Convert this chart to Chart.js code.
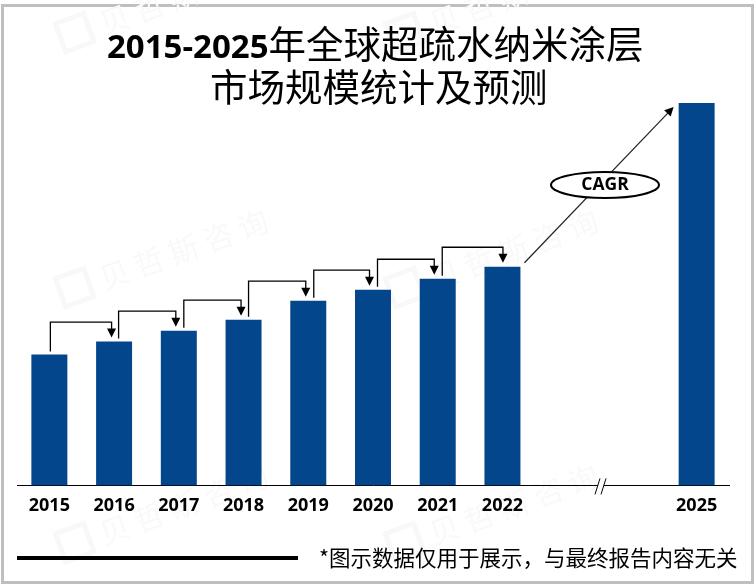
<!DOCTYPE html>
<html>
<head>
<meta charset="utf-8">
<script src="https://cdn.jsdelivr.net/npm/chart.js@4/dist/chart.umd.min.js"></script>
<style>
html, body { margin: 0; padding: 0; background: #fff; }
#wrap { position: relative; width: 755px; height: 586px; overflow: hidden; }
#frame { position: absolute; left: 1px; top: 4px; width: 747px; height: 574px; border: 3px solid #bfbfbf; }
canvas { position: absolute; left: 0; top: 0; }
</style>
</head>
<body>
<div id="wrap">
  <div id="frame"></div>
  <canvas id="chart" width="755" height="586"></canvas>
</div>
<script>
// values have no axis in the picture, read as bar heights
const categories = ['2015', '2016', '2017', '2018', '2019', '2020', '2021', '2022', '', '', '2025'];
const marketSize = [131, 144, 155, 166, 185, 196, 207, 219, null, null, 383];
// height of the horizontal part of each step connector, same units as marketSize
const connectorLevels = [164, 175, 186, 205, 216, 227, 239];

const titleLines = [
    [['2015-2025', true], ['年全球超疏水纳米涂层', false]],
    [['市场规模统计及预测', false]]
];
const footnote = '*图示数据仅用于展示，与最终报告内容无关';
const watermarks = [[65, 50], [65, 305], [395, 305], [395, 560], [65, 560], [395, 50]];

const latinFont = '"Open Sans", sans-serif';
const cjkFont = '"Noto Sans CJK SC", sans-serif';

function arrowHead(ctx, x, y, angle, size) {
    ctx.save();
    ctx.translate(x, y);
    ctx.rotate(angle);
    ctx.beginPath();
    ctx.moveTo(0, 0);
    ctx.lineTo(-size, -size * 0.5);
    ctx.lineTo(-size, size * 0.5);
    ctx.closePath();
    ctx.fill();
    ctx.restore();
}

const watermarkPlugin = {
    id: 'watermark',
    beforeDraw(chart) {
        const ctx = chart.ctx;
        ctx.save();
        ctx.fillStyle = '#f9f9f9';
        ctx.strokeStyle = '#f8f8f8';
        ctx.lineWidth = 5;
        ctx.font = '30px ' + cjkFont;
        ctx.textAlign = 'left';
        watermarks.forEach(p => {
            ctx.save();
            ctx.translate(p[0], p[1]);
            ctx.rotate(-0.35);
            ctx.strokeRect(0, -28, 30, 30);
            ctx.fillText('贝 哲 斯 咨 询', 42, 0);
            ctx.restore();
        });
        ctx.restore();
    }
};

const annotationPlugin = {
    id: 'annotations',
    afterDraw(chart) {
        const ctx = chart.ctx;
        const x = chart.scales.x;
        const y = chart.scales.y;

        ctx.save();
        ctx.strokeStyle = '#000';
        ctx.fillStyle = '#000';
        ctx.lineWidth = 1.3;

        // step connectors between the bars
        const startOff = [0.5, 4, 4.5, 4.5, 5, 4, 4];
        const endOff = [-3, -3.5, -3, -3, -4, -4, 0];
        connectorLevels.forEach((level, i) => {
            const x0 = x.getPixelForValue(i) + startOff[i];
            const x1 = x.getPixelForValue(i + 1) + endOff[i];
            const y0 = y.getPixelForValue(marketSize[i]) - 3;
            const yl = y.getPixelForValue(level);
            const tip = y.getPixelForValue(marketSize[i + 1]) - 4;
            ctx.beginPath();
            ctx.moveTo(x0 + 0.5, y0);
            ctx.lineTo(x0 + 0.5, yl + 0.5);
            ctx.lineTo(x1 + 0.5, yl + 0.5);
            ctx.lineTo(x1 + 0.5, tip - 6);
            ctx.stroke();
            arrowHead(ctx, x1 + 0.5, tip, Math.PI / 2, 9);
        });

        // CAGR arrow from 2022 towards 2025
        const ax = x.getPixelForValue(7) + 22;
        const ay = y.getPixelForValue(marketSize[7]) - 4;
        const bx = x.getPixelForValue(10) - 23;
        const by = y.getPixelForValue(marketSize[10]) + 4;
        const angle = Math.atan2(by - ay, bx - ax);
        ctx.strokeStyle = '#222';
        ctx.lineWidth = 1.2;
        ctx.beginPath();
        ctx.moveTo(ax, ay);
        ctx.lineTo(bx - 6 * Math.cos(angle), by - 6 * Math.sin(angle));
        ctx.stroke();
        arrowHead(ctx, bx, by, angle, 9);

        ctx.strokeStyle = '#000';
        ctx.lineWidth = 2;
        ctx.beginPath();
        ctx.ellipse(605, 185, 54, 13, 0, 0, Math.PI * 2);
        ctx.fillStyle = '#fff';
        ctx.fill();
        ctx.stroke();
        ctx.fillStyle = '#000';
        ctx.font = 'bold 17.5px ' + latinFont;
        ctx.textAlign = 'center';
        ctx.textBaseline = 'middle';
        ctx.fillText('CAGR', 605, 185.5);

        // axis break
        const breakX = 601;
        const base = y.getPixelForValue(0);
        ctx.fillStyle = '#fff';
        ctx.fillRect(breakX - 3, base - 2, 6, 4);
        ctx.lineWidth = 1;
        ctx.beginPath();
        ctx.moveTo(breakX - 6, base + 9);
        ctx.lineTo(breakX - 1, base - 7);
        ctx.moveTo(breakX, base + 9);
        ctx.lineTo(breakX + 5, base - 7);
        ctx.stroke();

        // title, bold numbers mixed with regular CJK
        ctx.fillStyle = '#000';
        ctx.textAlign = 'left';
        ctx.textBaseline = 'alphabetic';
        const lineY = [58, 101];
        const lineX = [107, 210];
        titleLines.forEach((runs, n) => {
            let px = lineX[n];
            runs.forEach(run => {
                ctx.font = run[1] ? 'bold 33px ' + latinFont : '37.5px ' + cjkFont;
                ctx.fillText(run[0], px, lineY[n]);
                px += ctx.measureText(run[0]).width;
            });
        });

        // footer rule and note
        ctx.fillRect(17, 556, 281, 4);
        ctx.font = '21.5px ' + cjkFont;
        ctx.fillText(footnote, 319, 566);
        ctx.restore();
    }
};

new Chart(document.getElementById('chart'), {
    type: 'bar',
    data: {
        labels: categories,
        datasets: [{
            data: marketSize,
            backgroundColor: '#03468c',
            categoryPercentage: 1,
            barPercentage: 0.556
        }]
    },
    options: {
        responsive: false,
        animation: false,
        layout: { padding: { left: 17, right: 26, top: 86, bottom: 59 } },
        plugins: { legend: { display: false }, tooltip: { enabled: false } },
        scales: {
            x: {
                grid: { display: false, drawTicks: false },
                border: { color: '#000', width: 1 },
                ticks: {
                    color: '#000',
                    autoSkip: false,
                    maxRotation: 0,
                    padding: 10,
                    font: { family: 'Open Sans', size: 18, weight: 'bold' }
                }
            },
            y: {
                display: false,
                min: 0,
                max: 400
            }
        }
    },
    plugins: [watermarkPlugin, annotationPlugin]
});
</script>
</body>
</html>
